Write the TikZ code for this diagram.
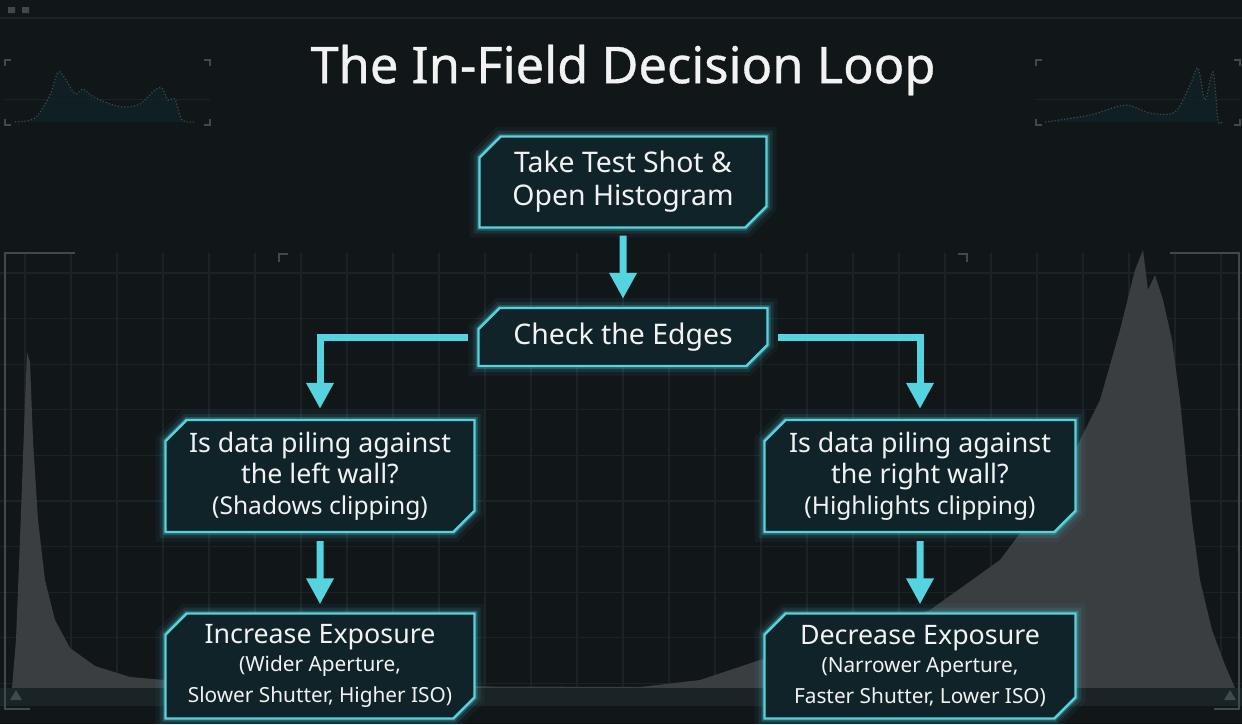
\documentclass[tikz,border=0pt]{standalone}
\usepackage{fontspec}
\setmainfont{Noto Sans}
\newfontfamily\titlefont[FakeBold=0.7]{Noto Sans}
\usetikzlibrary{arrows.meta,shapes.misc}
\definecolor{bgdark}{HTML}{111619}
\definecolor{gridline}{HTML}{1A2326}
\definecolor{panelgrey}{HTML}{3A3E41}
\definecolor{framegrey}{HTML}{3E4A4D}
\definecolor{boxfill}{HTML}{0F2328}
\definecolor{neon}{HTML}{55D3DE}
\definecolor{txt}{HTML}{F2F2F2}
\newcommand{\subline}{\fontsize{12.3}{15.5}\selectfont}
\newcommand{\smalline}{\fontsize{10.4}{11.5}\selectfont}

\begin{document}
\begin{tikzpicture}[x=0.5pt,y=-0.5pt,
   flowbox/.style={chamfered rectangle,chamfered rectangle corners={north west,south east},
             chamfered rectangle xsep=7pt,chamfered rectangle angle=45,inner sep=1pt,
             draw=neon,line width=1.2pt,fill=boxfill,text=txt,align=center,
             preaction={draw=neon,line width=10pt,opacity=.05},
             preaction={draw=neon,line width=6pt,opacity=.10},
             preaction={draw=neon,line width=3pt,opacity=.25}},
   bigtxt/.style={font=\fontsize{14.2}{16.5}\selectfont},
   midtxt/.style={font=\fontsize{13.4}{15.5}\selectfont},
   flow/.style={draw=neon,line width=3.5pt,-{Triangle[width=13pt,length=13pt]}},
   frame/.style={draw=framegrey,line width=0.7pt}]
  % background
  \fill[bgdark] (0,0) rectangle (1242,724);
  \useasboundingbox (0,0) rectangle (1242,724);
  \foreach \k in {-13,...,13}
    \draw[gridline,line width=0.6pt] ({623+46*\k},253) -- ({623+46*\k},705);
  \foreach \k in {0,...,9}
    \draw[gridline,line width=0.6pt] (0,{273+45.6*\k}) -- (1242,{273+45.6*\k});
  \draw[gridline,line width=0.8pt] (0,18) -- (1242,18);
  \fill[framegrey] (8,7) rectangle (15,13) (22,7) rectangle (29,13);
  % histograms behind the chart
  \fill[panelgrey] (12,688) -- (16,640) -- (20,540) -- (24,430) -- (27,352) -- (30,362)
     -- (33,440) -- (38,520) -- (45,580) -- (55,620) -- (70,648) -- (95,666) -- (130,677)
     -- (200,683) -- (350,686) -- (640,687) -- (700,680) -- (760,660) -- (850,640)
     -- (930,610) -- (1000,560) -- (1060,480) -- (1100,400) -- (1120,330) -- (1135,270)
     -- (1143,250) -- (1148,290) -- (1155,275) -- (1163,300) -- (1172,340) -- (1180,400)
     -- (1185,450) -- (1192,520) -- (1200,580) -- (1212,630) -- (1225,665) -- (1235,688) -- cycle;
  \fill[gridline] (0,688) rectangle (1242,706);
  \fill[framegrey] (10,700) -- (16,690) -- (22,700) -- cycle (1224,700) -- (1230,690) -- (1236,700) -- cycle;
  \draw[frame] (75,253) -- (5,253) -- (5,709) -- (30,709);
  \draw[frame] (1170,253) -- (1239,253) -- (1239,709) -- (1214,709);
  \draw[frame] (279,262) -- (279,254) -- (288,254);
  \draw[frame] (958,254) -- (967,254) -- (967,262);
  % small histogram panels
  \foreach \xa/\xb in {5/210,1036/1240}{
    \draw[frame] (\xa,66) -- (\xa,60) -- ++(6,0) (\xb-6,60) -- (\xb,60) -- (\xb,66)
                 (\xa,119) -- (\xa,125) -- ++(6,0) (\xb-6,125) -- (\xb,125) -- (\xb,119);
    \draw[gridline,line width=0.5pt] (\xa,99) -- (\xb,99);
  }
  \fill[boxfill,opacity=.7] plot[smooth] coordinates {(15,122) (35,118) (50,95) (58,72) (66,80)
     (75,94) (83,89) (92,96) (110,104) (125,107) (140,104) (155,90) (162,88) (168,100) (175,99) (182,120) (195,122)};
  \draw[framegrey,densely dotted,line width=0.6pt] plot[smooth] coordinates {(15,122) (35,118) (50,95) (58,72) (66,80)
     (75,94) (83,89) (92,96) (110,104) (125,107) (140,104) (155,90) (162,88) (168,100) (175,99) (182,120) (195,122)};
  \fill[boxfill,opacity=.7] plot[smooth] coordinates {(1045,122) (1090,115) (1125,105) (1150,113)
     (1175,112) (1190,85) (1198,68) (1205,100) (1213,72) (1218,120) (1222,122)};
  \draw[framegrey,densely dotted,line width=0.6pt] plot[smooth] coordinates {(1045,122) (1090,115) (1125,105) (1150,113)
     (1175,112) (1190,85) (1198,68) (1205,100) (1213,72) (1218,120) (1222,122)};
  % title
  \node[text=txt,font=\titlefont\fontsize{25.3}{30}\selectfont] (title) at (623,70) {The In-Field Decision Loop};
  % flow chart
  \node[flowbox,bigtxt,minimum width=143.5pt,minimum height=45.5pt] (shot) at (623,182)
       {Take Test Shot \&\\Open Histogram};
  \node[flowbox,bigtxt,minimum width=144.5pt,minimum height=29pt] (edges) at (623,337)
       {Check the Edges};
  \node[flowbox,midtxt,minimum width=154.5pt,minimum height=56pt] (leftq) at (320,476)
       {Is data piling against\\the left wall?\\\subline (Shadows clipping)};
  \node[flowbox,midtxt,minimum width=155.5pt,minimum height=56pt] (rightq) at (920,476)
       {Is data piling against\\the right wall?\\\subline (Highlights clipping)};
  \node[flowbox,midtxt,minimum width=154.5pt,minimum height=52.5pt] (incr) at (320,666)
       {Increase Exposure\\[-1.5pt]\smalline (Wider Aperture,\\\smalline Slower Shutter, Higher ISO)};
  \node[flowbox,midtxt,minimum width=155.5pt,minimum height=52.5pt] (decr) at (920,666)
       {Decrease Exposure\\[-1.5pt]\smalline (Narrower Aperture,\\\smalline Faster Shutter, Lower ISO)};
  \draw[flow,shorten <=3.5pt,shorten >=4pt] (shot) -- (edges);
  \draw[flow,shorten <=4.5pt,shorten >=5pt] (edges.west) -| (leftq.north);
  \draw[flow,shorten <=4.5pt,shorten >=5pt] (edges.east) -| (rightq.north);
  \draw[flow,shorten <=4pt,shorten >=4pt] (leftq) -- (incr);
  \draw[flow,shorten <=4pt,shorten >=4pt] (rightq) -- (decr);
\end{tikzpicture}
\end{document}
